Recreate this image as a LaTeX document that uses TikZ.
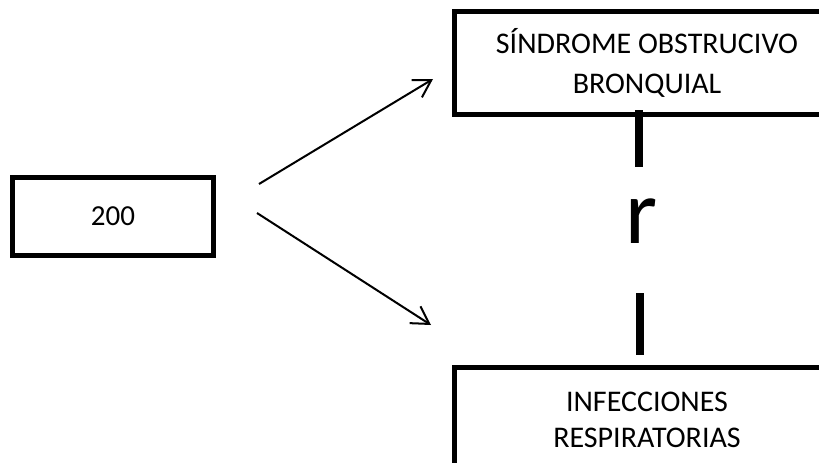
\documentclass[tikz,border=0pt]{standalone}
\usepackage{fontspec}
\setmainfont{Carlito}
\usepackage{tikz}
\usetikzlibrary{arrows.meta, positioning}
\tikzset{
  box/.style={rectangle, draw=black, line width=5pt, fill=white, align=center, inner sep=0pt},
  arrow/.style={-{Straight Barb[length=17pt, width=20pt]}, line width=2pt},
  bar/.style={line width=8pt},
}

\begin{document}
\begin{tikzpicture}[x=1pt, y=-1pt, font=\fontsize{29}{38}\selectfont]
\clip (0,0) rectangle (819,463);
\node[box, minimum width=201pt, minimum height=78pt] (total) at (113,216) {200};
\node[box, minimum width=385pt, minimum height=103pt, font=\fontsize{30}{40}\selectfont] (sob) at (647,63) {SÍNDROME OBSTRUCIVO\\BRONQUIAL};
\node[box, minimum width=385pt, minimum height=105pt, font=\fontsize{30}{36}\selectfont] (infec) at (647,420) {INFECCIONES\\RESPIRATORIAS};
\node[inner sep=0pt, font=\fontsize{92}{92}\selectfont] (rr) at (642,221.5) {r};

\coordinate (up1) at (259,184);
\coordinate (up2) at (433,79);
\coordinate (dn1) at (257,213);
\coordinate (dn2) at (431,325);
\coordinate (bar1a) at (639,110);
\coordinate (bar1b) at (639,167);
\coordinate (bar2a) at (640,293);
\coordinate (bar2b) at (640,355);

\draw[arrow] (up1) -- (up2);
\draw[arrow] (dn1) -- (dn2);
\draw[bar] (bar1a) -- (bar1b);
\draw[bar] (bar2a) -- (bar2b);
\end{tikzpicture}
\end{document}
